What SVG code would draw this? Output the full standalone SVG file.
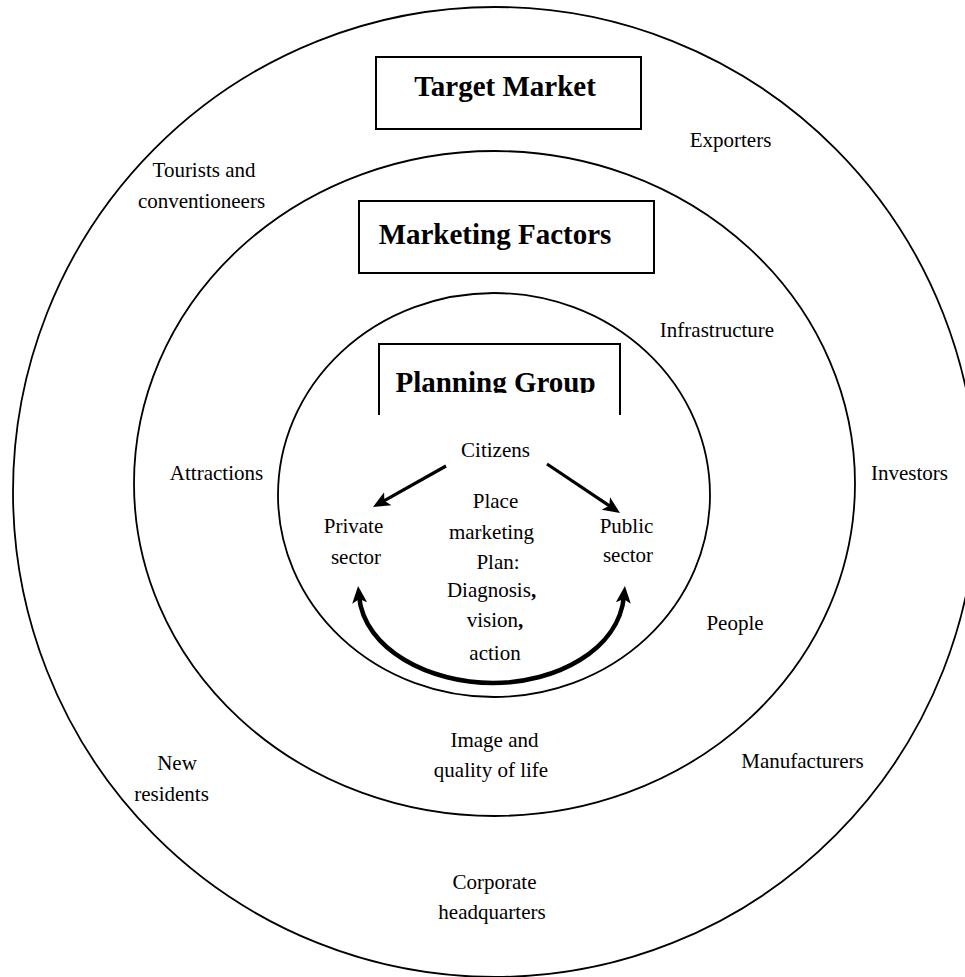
<svg xmlns="http://www.w3.org/2000/svg" width="965" height="977" viewBox="0 0 965 977">
  <style>
    .ring { fill: none; stroke: #000; stroke-width: 1.8; }
    .box { fill: #fff; stroke: #000; stroke-width: 2; }
    .lbl { font-family: "Liberation Serif", "Times New Roman", serif; font-size: 21px; fill: #000; text-anchor: middle; }
    .ttl { font-family: "Liberation Serif", "Times New Roman", serif; font-size: 29px; font-weight: bold; fill: #000; text-anchor: middle; }
    .arw { fill: none; stroke: #000; stroke-width: 3.2; }
    .arc { fill: none; stroke: #000; stroke-width: 4.5; }
  </style>
  <defs>
    <marker id="head" markerUnits="userSpaceOnUse" markerWidth="20" markerHeight="18" viewBox="0 0 20 18" refX="7" refY="9" orient="auto-start-reverse">
      <path d="M0,1.5 L17,9 L0,16.5 L4,9 z" fill="#000"/>
    </marker>
    <clipPath id="pgclip">
      <rect x="380" y="345" width="240" height="48"/>
    </clipPath>
  </defs>
  <rect width="965" height="977" fill="#fff"/>

  <g id="outer-ring">
    <ellipse class="ring" cx="495" cy="492" rx="482" ry="485"/>
  </g>
  <g id="middle-ring">
    <ellipse class="ring" cx="494.5" cy="483.5" rx="360.5" ry="332.5"/>
  </g>
  <g id="inner-ring">
    <ellipse class="ring" cx="494" cy="495" rx="216" ry="202"/>
  </g>

  <g id="target-market">
    <rect class="box" x="376" y="57" width="265" height="72"/>
    <text class="ttl" x="505" y="96">Target Market</text>
  </g>
  <g id="marketing-factors">
    <rect class="box" x="359" y="201" width="295" height="72"/>
    <text class="ttl" x="495" y="244">Marketing Factors</text>
  </g>
  <g id="planning-group">
    <path d="M379,415 L379,344 L620,344 L620,415" fill="#fff" stroke="#000" stroke-width="2"/>
    <text class="ttl" x="495.5" y="392" clip-path="url(#pgclip)">Planning Group</text>
  </g>

  <g id="target-labels">
    <text class="lbl" x="730.5" y="147">Exporters</text>
    <text class="lbl" x="204" y="177">Tourists and</text>
    <text class="lbl" x="201.5" y="208">conventioneers</text>
    <text class="lbl" x="909.5" y="480">Investors</text>
    <text class="lbl" x="802.5" y="768">Manufacturers</text>
    <text class="lbl" x="177" y="770">New</text>
    <text class="lbl" x="171.5" y="801">residents</text>
    <text class="lbl" x="494.5" y="889">Corporate</text>
    <text class="lbl" x="492" y="919">headquarters</text>
  </g>

  <g id="factor-labels">
    <text class="lbl" x="717" y="337">Infrastructure</text>
    <text class="lbl" x="216.5" y="480">Attractions</text>
    <text class="lbl" x="735" y="630">People</text>
    <text class="lbl" x="494.5" y="747">Image and</text>
    <text class="lbl" x="491" y="777">quality of life</text>
  </g>

  <g id="citizens">
    <text class="lbl" x="495.5" y="457">Citizens</text>
  </g>
  <g id="private-sector">
    <text class="lbl" x="353.5" y="533">Private</text>
    <text class="lbl" x="356" y="564">sector</text>
  </g>
  <g id="public-sector">
    <text class="lbl" x="626.5" y="533">Public</text>
    <text class="lbl" x="628" y="562">sector</text>
  </g>
  <g id="plan">
    <text class="lbl" x="495.5" y="508">Place</text>
    <text class="lbl" x="491.5" y="539">marketing</text>
    <text class="lbl" x="498" y="569">Plan:</text>
    <text class="lbl" x="491.5" y="597">Diagnosis<tspan font-weight="bold">,</tspan></text>
    <text class="lbl" x="495" y="627">vision<tspan font-weight="bold">,</tspan></text>
    <text class="lbl" x="495" y="660">action</text>
  </g>

  <g id="connectors">
    <line class="arw" x1="446" y1="466" x2="381.7" y2="502.1" marker-end="url(#head)"/>
    <line class="arw" x1="547" y1="464" x2="611.7" y2="507.4" marker-end="url(#head)"/>
    <path class="arc" d="M359,596 C364,650 430,683 493,683 C556,683 619,650 624,596" marker-start="url(#head)" marker-end="url(#head)"/>
  </g>
</svg>
